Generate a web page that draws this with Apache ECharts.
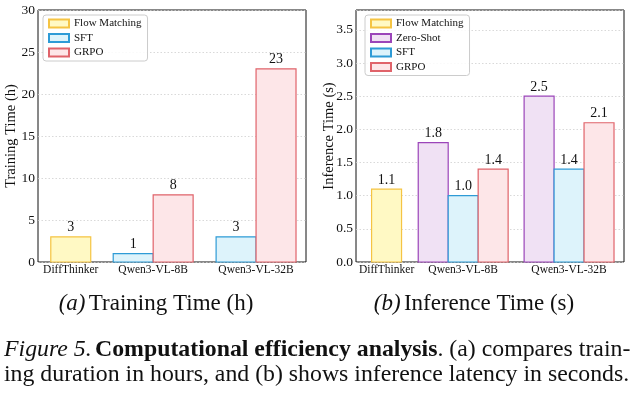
<!DOCTYPE html>
<html>
<head>
<meta charset="utf-8">
<script src="https://cdn.jsdelivr.net/npm/echarts@6/dist/echarts.min.js"></script>
<style>html,body{margin:0;padding:0;background:#fff}#c{width:638px;height:396px}</style>
</head>
<body>
<div id="c"></div>
<script>
// ---- data ----
const categories = ['DiffThinker', 'Qwen3-VL-8B', 'Qwen3-VL-32B'];
const trainFlow = [3, null, null];
const trainSFT = [null, 1, 3];
const trainGRPO = [null, 8, 23];
const inferFlow = [1.1, null, null];
const inferZero = [null, 1.8, 2.5];
const inferSFT = [null, 1.0, 1.4];
const inferGRPO = [null, 1.4, 2.1];
const trainTicks = [0, 5, 10, 15, 20, 25, 30];
const inferTicks = [0, 0.5, 1.0, 1.5, 2.0, 2.5, 3.0, 3.5];

// ---- layout (not data) ----
const FONT = '"Liberation Serif", "Times New Roman", serif';
const layoutL = { pos: [0, 0.825, 1.855], barW: 0.4, min: -0.328, max: 2.355 };
const layoutR = { pos: [0, 0.767, 1.827], barW: 0.3, min: -0.306, max: 2.377 };
const styles = {
  'Flow Matching': { fill: '#FFF9C4', stroke: '#F5C443' },
  'Zero-Shot': { fill: '#F0E1F4', stroke: '#9B45B9' },
  'SFT': { fill: '#DDF3FB', stroke: '#2E9BD6' },
  'GRPO': { fill: '#FDE6E8', stroke: '#E0636A' }
};

function slotsFor(seriesList) {
  return categories.map((_, g) => seriesList.filter(s => s.values[g] != null).map(s => s.name));
}

function makeSeries(seriesList, layout, axisIdx, fmt) {
  const slots = slotsFor(seriesList);
  return seriesList.map(s => ({
    type: 'custom',
    name: s.name,
    xAxisIndex: axisIdx,
    yAxisIndex: axisIdx,
    itemStyle: { color: styles[s.name].fill, borderColor: styles[s.name].stroke, borderWidth: 1.2 },
    data: s.values.map((v, g) => [g, v]).filter(d => d[1] != null),
    renderItem: function (params, api) {
      const g = api.value(0);
      const v = api.value(1);
      const list = slots[g];
      const k = list.indexOf(s.name);
      const cx = layout.pos[g] + (k - (list.length - 1) / 2) * layout.barW;
      const top = api.coord([cx - layout.barW / 2, v]);
      const bot = api.coord([cx + layout.barW / 2, 0]);
      return {
        type: 'group',
        children: [
          {
            type: 'rect',
            shape: { x: top[0], y: top[1], width: bot[0] - top[0], height: bot[1] - top[1] },
            style: { fill: styles[s.name].fill, stroke: styles[s.name].stroke, lineWidth: 1.2 }
          },
          {
            type: 'text',
            x: (top[0] + bot[0]) / 2,
            y: top[1] - 2,
            style: { text: fmt(v), font: '14px ' + FONT, fill: '#111', align: 'center', verticalAlign: 'bottom' }
          }
        ]
      };
    }
  }));
}

const leftSeries = [
  { name: 'Flow Matching', values: trainFlow },
  { name: 'SFT', values: trainSFT },
  { name: 'GRPO', values: trainGRPO }
];
const rightSeries = [
  { name: 'Flow Matching', values: inferFlow },
  { name: 'Zero-Shot', values: inferZero },
  { name: 'SFT', values: inferSFT },
  { name: 'GRPO', values: inferGRPO }
];

function xAxis(layout, gridIndex) {
  return {
    type: 'value', gridIndex: gridIndex, min: layout.min, max: layout.max,
    splitLine: { show: false },
    axisLine: { show: false },
    axisTick: { show: false },
    axisLabel: {
      customValues: layout.pos,
      formatter: v => { const i = layout.pos.findIndex(p => Math.abs(p - v) < 1e-6); return i >= 0 ? categories[i] : ''; },
      fontFamily: FONT, fontSize: 11.5, color: '#111', margin: 2
    }
  };
}
function yAxis(name, max, interval, ticks, gridIndex, digits, gap) {
  return {
    type: 'value', gridIndex: gridIndex, min: 0, max: max, interval: interval,
    name: name, nameLocation: 'middle', nameGap: gap, nameMoveOverlap: false,
    nameTextStyle: { fontFamily: FONT, fontSize: 14.5, color: '#111' },
    axisLine: { show: false }, axisTick: { show: false },
    axisLabel: {
      fontFamily: FONT, fontSize: 13.5, color: '#111', margin: 3,
      showMaxLabel: ticks.indexOf(max) >= 0,
      formatter: v => ticks.some(t => Math.abs(t - v) < 1e-9) ? v.toFixed(digits) : ''
    },
    splitLine: { show: true, lineStyle: { color: '#cfcfcf', type: [1.5, 2], width: 0.8 } }
  };
}
function legend(names, left, top) {
  return {
    data: names, left: left, top: top, orient: 'vertical', selectedMode: false,
    itemWidth: 20, itemHeight: 8, itemGap: 3.5, icon: 'rect',
    borderColor: '#ccc', borderWidth: 1, borderRadius: 3, padding: [3, 6, 3, 5],
    backgroundColor: 'rgba(255,255,255,0.85)',
    textStyle: { fontFamily: FONT, fontSize: 11, color: '#111' }
  };
}

const chart = echarts.init(document.getElementById('c'), null, { renderer: 'canvas' });
chart.setOption({
  animation: false,
  backgroundColor: '#fff',
  grid: [
    { left: 38, top: 10, width: 268, height: 252, show: true, borderColor: '#111', borderWidth: 1, backgroundColor: 'transparent' },
    { left: 356, top: 10, width: 268, height: 252, show: true, borderColor: '#111', borderWidth: 1, backgroundColor: 'transparent' }
  ],
  xAxis: [xAxis(layoutL, 0), xAxis(layoutR, 1)],
  yAxis: [
    yAxis('Training Time (h)', 30, 5, trainTicks, 0, 0, 19),
    yAxis('Inference Time (s)', 3.8, 0.5, inferTicks, 1, 1, 19)
  ],
  legend: [
    legend(['Flow Matching', 'SFT', 'GRPO'], 43, 15),
    legend(['Flow Matching', 'Zero-Shot', 'SFT', 'GRPO'], 365, 15)
  ],
  series: makeSeries(leftSeries, layoutL, 0, v => String(v)).concat(
          makeSeries(rightSeries, layoutR, 1, v => v.toFixed(1))),
  graphic: [
    {
      type: 'text', x: 156, y: 304,
      style: {
        text: '{i|(a)} {n|Training Time (h)}', align: 'center', verticalAlign: 'middle',
        rich: { i: { font: 'italic 23px ' + FONT, fill: '#111' }, n: { font: '23px ' + FONT, fill: '#111' } }
      }
    },
    {
      type: 'text', x: 474, y: 304,
      style: {
        text: '{i|(b)} {n|Inference Time (s)}', align: 'center', verticalAlign: 'middle',
        rich: { i: { font: 'italic 23px ' + FONT, fill: '#111' }, n: { font: '23px ' + FONT, fill: '#111' } }
      }
    },
    {
      type: 'text', x: 4, y: 350,
      style: {
        text: '{i|Figure 5.} {b|Computational efficiency analysis}{n|. (a) compares train-}', verticalAlign: 'middle',
        rich: { i: { font: 'italic 23.8px ' + FONT, fill: '#111' }, b: { font: 'bold 23.8px ' + FONT, fill: '#111' }, n: { font: '23.8px ' + FONT, fill: '#111' } }
      }
    },
    {
      type: 'text', x: 4, y: 375,
      style: { text: 'ing duration in hours, and (b) shows inference latency in seconds.', verticalAlign: 'middle', font: '23.8px ' + FONT, fill: '#111' }
    }
  ]
});
</script>
</body>
</html>
